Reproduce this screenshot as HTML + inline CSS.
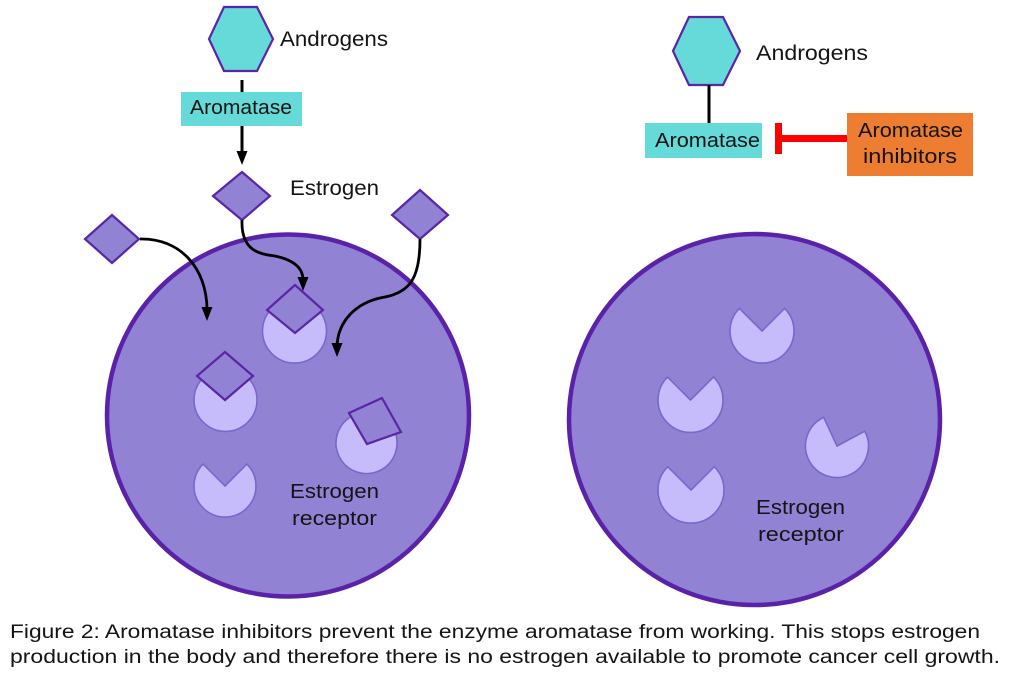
<!DOCTYPE html>
<html>
<head>
<meta charset="utf-8">
<style>
html,body{margin:0;padding:0;background:#fff;}
svg{display:block;}
text{font-family:"Liberation Sans",sans-serif;fill:#141414;}
</style>
</head>
<body>
<svg width="1024" height="678" viewBox="0 0 1024 678" xmlns="http://www.w3.org/2000/svg">
<defs>
<marker id="ah" markerWidth="12" markerHeight="14" refX="6" refY="12" orient="auto" markerUnits="userSpaceOnUse" viewBox="0 0 12 14">
<path d="M0,0 L12,0 L6,13 Z" fill="#000"/>
</marker>
</defs>

<!-- LEFT TOP -->
<polygon points="209,39 224,7 257,7 273,39 257,71 224,71" fill="#66d9d9" stroke="#5a25a6" stroke-width="2.2"/>
<text x="280" y="46" font-size="21" textLength="108" lengthAdjust="spacingAndGlyphs">Androgens</text>
<line x1="242" y1="80" x2="242" y2="92" stroke="#000" stroke-width="3"/>
<rect x="181" y="92" width="121" height="34" fill="#66d9d9"/>
<text x="190" y="114" font-size="20" textLength="102" lengthAdjust="spacingAndGlyphs">Aromatase</text>
<line x1="242" y1="126" x2="242" y2="154" stroke="#000" stroke-width="3"/>
<path d="M236.5,151 L247.5,151 L242,165 Z" fill="#000"/>

<!-- estrogen diamonds outside -->
<polygon points="242,172 270,196 242,220 213,196" fill="#9182d4" stroke="#5a25a6" stroke-width="2.2"/>
<text x="290" y="195" font-size="21" textLength="89" lengthAdjust="spacingAndGlyphs">Estrogen</text>
<polygon points="112,215 139,239 112,263 85,239" fill="#9182d4" stroke="#5a25a6" stroke-width="2.2"/>
<polygon points="420,190 448,215 420,239 392,215" fill="#9182d4" stroke="#5a25a6" stroke-width="2.2"/>

<!-- LEFT CELL -->
<circle cx="288" cy="415.5" r="181" fill="#9182d4" stroke="#5a22a8" stroke-width="4.5"/>

<!-- arrows -->
<path d="M140,239 C180,238 207,268 207,310" fill="none" stroke="#000" stroke-width="2.8"/>
<path d="M201.5,307 L212.5,307 L207,321 Z" fill="#000"/>
<path d="M242,220 C241,250 258,254 275,256 C294,260 303,268 303,280" fill="none" stroke="#000" stroke-width="2.8"/>
<path d="M297.5,277 L308.5,277 L303,291 Z" fill="#000"/>
<path d="M420,239 C420,278 410,292 385,297 C355,302 338,322 337,346" fill="none" stroke="#000" stroke-width="2.8"/>
<path d="M331.5,343 L342.5,343 L337,357 Z" fill="#000"/>

<!-- receptors left -->
<g fill="#c7bcfb" stroke="#7a66cc" stroke-width="1.6">
<path d="M294.5,331 L317.1,308.4 A32,32 0 1 1 271.9,308.4 Z"/>
<path d="M225.5,400 L247.8,377.7 A31.5,31.5 0 1 1 203.2,377.7 Z"/>
<path d="M225,486 L246.9,464.1 A31,31 0 1 1 203.1,464.1 Z"/>
<path d="M366.5,443 L393.4,428.6 A30.5,30.5 0 1 1 353.6,415.4 Z"/>
</g>
<g fill="#9182d4" stroke="#5a25a6" stroke-width="2.2">
<polygon points="295,285 323,310 295,333 267,310"/>
<polygon points="225,352 253,376 225,400 197,376"/>
<polygon points="349,413 382,398 401,432 367,444"/>
</g>
<text x="290" y="498" font-size="20" textLength="89" lengthAdjust="spacingAndGlyphs">Estrogen</text>
<text x="292" y="525" font-size="20" textLength="85" lengthAdjust="spacingAndGlyphs">receptor</text>

<!-- RIGHT TOP -->
<polygon points="673,51 689,17 723,17 740,51 723,85 689,85" fill="#66d9d9" stroke="#5a25a6" stroke-width="2.2"/>
<text x="756" y="60" font-size="21" textLength="112" lengthAdjust="spacingAndGlyphs">Androgens</text>
<line x1="709" y1="85" x2="709" y2="123" stroke="#000" stroke-width="3"/>
<rect x="645" y="123" width="117" height="35" fill="#66d9d9"/>
<text x="655" y="147" font-size="20" textLength="105" lengthAdjust="spacingAndGlyphs">Aromatase</text>
<rect x="775" y="123" width="7" height="31" fill="#ff0000"/>
<rect x="782" y="135" width="66" height="7" fill="#ff0000"/>
<rect x="847" y="113" width="126" height="63" fill="#ed7d31"/>
<text x="858" y="137" font-size="20" textLength="105" lengthAdjust="spacingAndGlyphs">Aromatase</text>
<text x="863" y="163" font-size="20" textLength="94" lengthAdjust="spacingAndGlyphs">inhibitors</text>

<!-- RIGHT CELL -->
<circle cx="754.5" cy="419.5" r="185.5" fill="#9182d4" stroke="#5a22a8" stroke-width="4.5"/>
<g fill="#c7bcfb" stroke="#7a66cc" stroke-width="1.6">
<path d="M762,331 L784.6,308.4 A32,32 0 1 1 739.4,308.4 Z"/>
<path d="M690.5,400 L713.5,377 A32.5,32.5 0 1 1 667.5,377 Z"/>
<path d="M691,490 L714.3,466.7 A33,33 0 1 1 667.7,466.7 Z"/>
<path d="M837,446 L864.8,431.2 A31.5,31.5 0 1 1 823.7,417.4 Z"/>
</g>
<text x="756" y="514" font-size="20" textLength="89" lengthAdjust="spacingAndGlyphs">Estrogen</text>
<text x="758" y="541" font-size="20" textLength="86" lengthAdjust="spacingAndGlyphs">receptor</text>

<!-- CAPTION -->
<text x="10" y="638" font-size="19" textLength="970" lengthAdjust="spacingAndGlyphs">Figure 2: Aromatase inhibitors prevent the enzyme aromatase from working. This stops estrogen</text>
<text x="10" y="663" font-size="19" textLength="990" lengthAdjust="spacingAndGlyphs">production in the body and therefore there is no estrogen available to promote cancer cell growth.</text>
</svg>
</body>
</html>
